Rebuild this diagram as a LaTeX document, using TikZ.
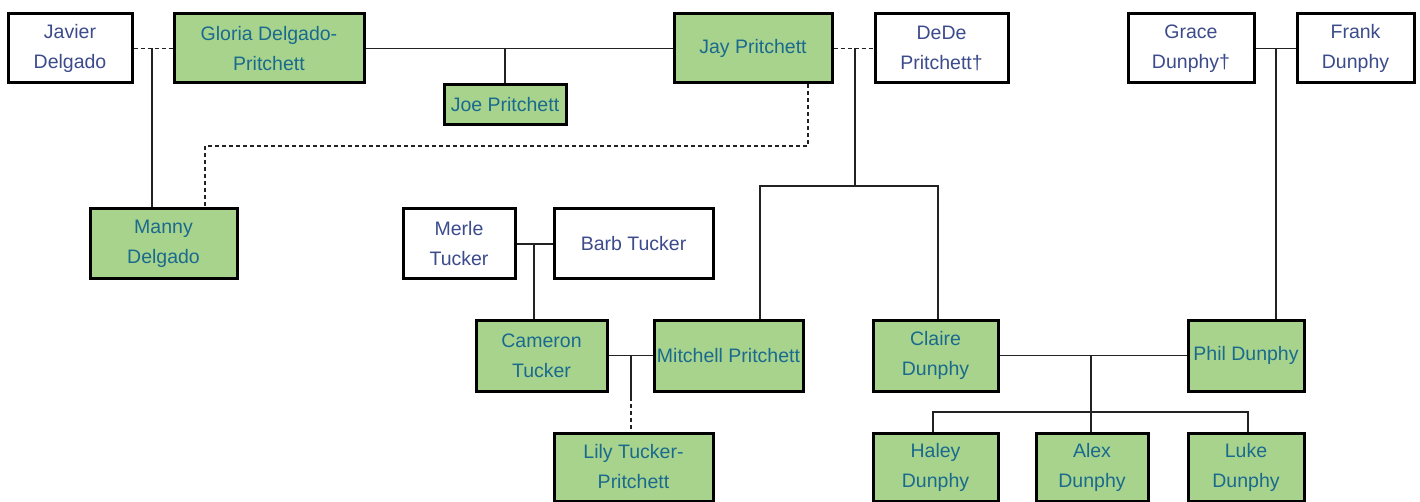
\documentclass[tikz,border=0pt]{standalone}
\usepackage{fontspec}
\setmainfont{Liberation Sans}
\definecolor{boxgreen}{HTML}{A8D38D}
\definecolor{greentext}{HTML}{1A6A8E}
\definecolor{whitetext}{HTML}{3C4B8C}
\definecolor{linecol}{HTML}{222222}
\tikzset{
  person/.style={draw=black, line width=3pt, rectangle, inner sep=0pt, align=center,
    font=\fontsize{19.5}{30}\selectfont},
  wbox/.style={person, fill=white, text=whitetext},
  gbox/.style={person, fill=boxgreen, text=greentext},
  link/.style={draw=linecol, line width=1.4pt},
  dlink/.style={link, dash pattern=on 4pt off 3pt},
}
\begin{document}
\begin{tikzpicture}[x=1pt,y=-1pt]
\useasboundingbox[fill=white] (0,0) rectangle (1420,502);
% row 1
\node[wbox, minimum width=124pt, minimum height=69pt] (jav) at (70,48.5) {Javier\\Delgado};
\node[gbox, minimum width=190pt, minimum height=69pt] (glo) at (269,48.5) {Gloria Delgado-\\Pritchett};
\node[gbox, minimum width=122pt, minimum height=40pt] (joe) at (505,105) {Joe Pritchett};
\node[gbox, minimum width=158pt, minimum height=69pt] (jay) at (753,48.5) {Jay Pritchett};
\node[wbox, minimum width=133pt, minimum height=69pt] (ded) at (941.5,48.5) {DeDe\\Pritchett†};
\node[wbox, minimum width=126pt, minimum height=69pt] (gra) at (1191,48.5) {Grace\\Dunphy†};
\node[wbox, minimum width=117pt, minimum height=69pt] (fra) at (1355.5,48.5) {Frank\\Dunphy};
% row 2
\node[gbox, minimum width=147pt, minimum height=70pt] (man) at (163.5,244) {Manny\\Delgado};
\node[wbox, minimum width=112pt, minimum height=70pt] (mer) at (459,244) {Merle\\Tucker};
\node[wbox, minimum width=159pt, minimum height=70pt] (bar) at (633.5,244) {Barb Tucker};
% row 3
\node[gbox, minimum width=131pt, minimum height=71pt] (cam) at (541.5,355.5) {Cameron\\Tucker};
\node[gbox, minimum width=149pt, minimum height=71pt] (mit) at (728.5,355.5) {Mitchell Pritchett};
\node[gbox, minimum width=125pt, minimum height=71pt] (cla) at (935.5,355.5) {Claire\\Dunphy};
\node[gbox, minimum width=116pt, minimum height=71pt] (phi) at (1246,355.5) {Phil Dunphy};
% row 4
\node[gbox, minimum width=159pt, minimum height=68pt] (lil) at (633.5,467) {Lily Tucker-\\Pritchett};
\node[gbox, minimum width=125pt, minimum height=68pt] (hal) at (935.5,467) {Haley\\Dunphy};
\node[gbox, minimum width=112pt, minimum height=68pt] (ale) at (1092,467) {Alex\\Dunphy};
\node[gbox, minimum width=116pt, minimum height=68pt] (luk) at (1246,467) {Luke\\Dunphy};
% Javier - Gloria
\draw[dlink] (jav) -- (glo);
\coordinate (jg) at (152,48.5);
\draw[link] (jg) -- (jg |- man.north);
% Gloria - Jay
\draw[link] (glo) -- (jay);
\draw[link] (joe.north) -- (joe.north |- glo.east);
% Jay - DeDe
\draw[dlink] (jay) -- (ded);
\coordinate (jd) at (855,48.5);
\coordinate (b1) at (760,186);
\coordinate (b2) at (938,186);
\draw[link] (jd) -- (jd |- b1);
\draw[link] (b1 |- mit.north) -- (b1) -- (b2) -- (b2 |- cla.north);
% Jay - Manny (dashed)
\coordinate (jm1) at (808,146);
\coordinate (jm2) at (205,146);
\draw[dlink] (jm1 |- jay.south) -- (jm1) -- (jm2) -- (jm2 |- man.north);
% Grace - Frank
\draw[link] (gra) -- (fra);
\coordinate (gf) at (1276,48.5);
\draw[link] (gf) -- (gf |- phi.north);
% Merle - Barb
\draw[link] (mer) -- (bar);
\coordinate (mb) at (534,244);
\draw[link] (mb) -- (mb |- cam.north);
% Cameron - Mitchell
\draw[link] (cam) -- (mit);
\coordinate (cm) at (631,355.5);
\coordinate (cm2) at (631,397);
\draw[link] (cm) -- (cm2);
\draw[dlink] (cm2) -- (cm2 |- lil.north);
% Claire - Phil
\draw[link] (cla) -- (phi);
\coordinate (cp) at (1091,355.5);
\coordinate (k1) at (933,412);
\coordinate (k2) at (1091,412);
\coordinate (k3) at (1248,412);
\draw[link] (cp) -- (k2) -- (k2 |- ale.north);
\draw[link] (k1 |- hal.north) -- (k1) -- (k3) -- (k3 |- luk.north);
\end{tikzpicture}
\end{document}
